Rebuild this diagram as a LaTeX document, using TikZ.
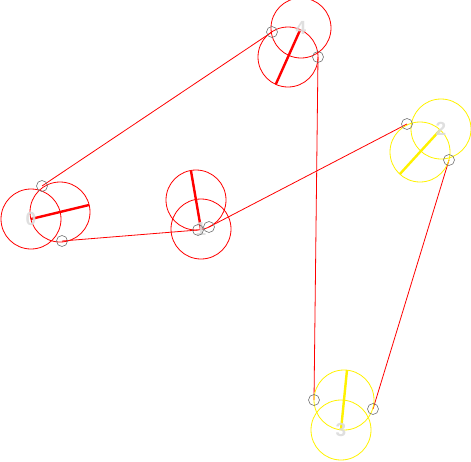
\documentclass[tikz,border=0pt]{standalone}
\usepackage{fontspec}
\setmainfont{Liberation Sans}
\usetikzlibrary{calc}
\begin{document}
\begin{tikzpicture}[x=1pt,y=-1pt,
  ring/.style={circle, draw=#1, minimum size=60pt, inner sep=0pt, line width=0.8pt},
  port/.style={circle, draw=black!55, minimum size=11pt, inner sep=0pt, line width=0.6pt},
  lbl/.style={font=\bfseries\fontsize{19}{19}\selectfont, text=black!14, inner sep=0pt, opacity=0.9},
  link/.style={red, line width=0.8pt},
  spoke/.style={draw=#1, line width=2.4pt}]
\useasboundingbox (0,0) rectangle (471,461);
% ports (centres)
\coordinate (c0a) at (42,186); \coordinate (c0b) at (62,241);
\coordinate (c1a) at (198,230); \coordinate (c1b) at (209,227);
\coordinate (c2a) at (407,124); \coordinate (c2b) at (449,160);
\coordinate (c3a) at (314,400); \coordinate (c3b) at (373,409);
\coordinate (c4a) at (272,32); \coordinate (c4b) at (318,57);
% links
\draw[link] (c0a) -- (c4a);
\draw[link] (c4b) -- (c3a);
\draw[link] (c3b) -- (c2b);
\draw[link] (c2a) -- (c1b);
\draw[link] (c1a) -- (c0b);
% rings
\node[ring=red] (r0a) at (31,219) {};
\node[ring=red] (r0b) at (60,212) {};
\node[ring=red] (r1a) at (201,229) {};
\node[ring=red] (r1b) at (196,200) {};
\node[ring=yellow] (r2a) at (441,129) {};
\node[ring=yellow] (r2b) at (420,152) {};
\node[ring=yellow] (r3a) at (341,430) {};
\node[ring=yellow] (r3b) at (344,400) {};
\node[ring=red] (r4a) at (301,28) {};
\node[ring=red] (r4b) at (288,57) {};
% spokes (diameters through the labelled centre)
\draw[spoke=red] ($(r0b.center)!30pt!(r0a.center)$) -- ($(r0b.center)!-30pt!(r0a.center)$);
\draw[spoke=red] ($(r1b.center)!30pt!(r1a.center)$) -- ($(r1b.center)!-30pt!(r1a.center)$);
\draw[spoke=yellow] ($(r2b.center)!30pt!(r2a.center)$) -- ($(r2b.center)!-30pt!(r2a.center)$);
\draw[spoke=yellow] ($(r3b.center)!30pt!(r3a.center)$) -- ($(r3b.center)!-30pt!(r3a.center)$);
\draw[spoke=red] ($(r4b.center)!30pt!(r4a.center)$) -- ($(r4b.center)!-30pt!(r4a.center)$);
% labels
\node[lbl] (l0) at (r0a.center) {0};
\node[lbl] (l1) at (r1a.center) {1};
\node[lbl] (l2) at (r2a.center) {2};
\node[lbl] (l3) at (r3a.center) {3};
\node[lbl] (l4) at (r4a.center) {4};
% port circles
\foreach \p in {0a,0b,1a,1b,2a,2b,3a,3b,4a,4b}
  \node[port] (p\p) at (c\p) {};
\end{tikzpicture}
\end{document}
